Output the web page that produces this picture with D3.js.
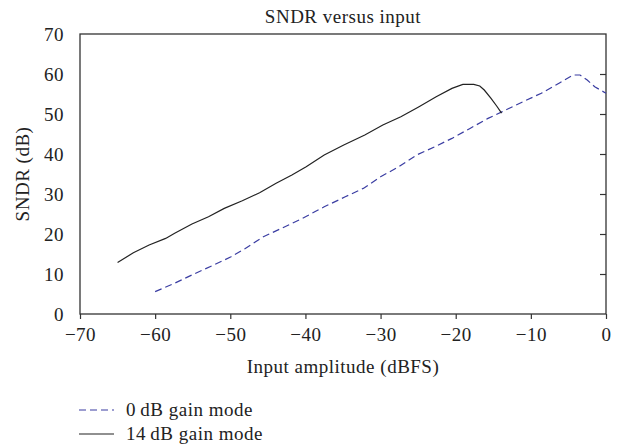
<!DOCTYPE html>
<html lang="en">
<head>
<meta charset="UTF-8">
<title>SNDR versus input</title>
<script src="https://cdn.jsdelivr.net/npm/d3@7"></script>
<style>
    body { margin: 0; background: #fff; }
    text { font-family: "Liberation Serif", serif; fill: #222; font-size: 19px; letter-spacing: 0.5px; }
</style>
</head>
<body>
<div id="output"></div>
<script>

// 0 dB gain mode (dashed blue)
var gain0X = [-60, -57.4, -54.6, -52.2, -49.9, -48, -45.6, -43.2, -40.4, -37.5, -34.7, -32.3, -30, -27.6,
              -25.2, -22.8, -20.5, -18.1, -15.7, -13.8, -11, -8.6, -6.25, -4.4, -3.45, -2.5, -1.5, 0];
var gain0Y = [5.6, 7.7, 10.2, 12.25, 14.3, 16.4, 19.3, 21.4, 23.9, 26.8, 29.3, 31.4, 34.3, 36.8,
              39.75, 41.8, 43.9, 46.4, 48.9, 50.6, 53.1, 55.2, 57.7, 59.75, 59.75, 58.5, 56.8, 55.2];

// 14 dB gain mode (solid black)
var gain14X = [-65, -62.9, -60.8, -58.6, -57.4, -55.1, -52.9, -50.8, -48.4, -46.1, -43.9, -41.8, -39.9,
               -37.5, -34.9, -32.1, -29.7, -27.3, -25, -22.6, -20.5, -19.05, -17.6, -16.8, -16.2, -15.3, -14.55, -13.9];
var gain14Y = [12.9, 15.3, 17.25, 18.9, 20.2, 22.5, 24.3, 26.4, 28.3, 30.3, 32.7, 34.75, 36.8,
               39.75, 42.25, 44.75, 47.25, 49.3, 51.7, 54.3, 56.4, 57.4, 57.4, 57.0, 56.0, 53.9, 52.0, 50.2];

var xTicks = [-70, -60, -50, -40, -30, -20, -10, 0];
var yTicks = [0, 10, 20, 30, 40, 50, 60, 70];
var seriesNames = ["0\u2009dB gain mode", "14\u2009dB gain mode"];

var w = 622, h = 446;
var plotLeft = 80, plotRight = 606, plotTop = 34, plotBottom = 314;

var svg = d3.select("#output").append("svg")
    .attr("width", w).attr("height", h);

var xScale = d3.scaleLinear().domain([-70, 0]).range([plotLeft, plotRight]);
var yScale = d3.scaleLinear().domain([0, 70]).range([plotBottom, plotTop]);

var fmt = function(d){ return d < 0 ? "\u2212" + Math.abs(d) : "" + d; };

// bottom axis, ticks out
var xAxis = svg.append("g")
    .attr("transform", "translate(0," + plotBottom + ")")
    .call(d3.axisBottom(xScale).tickValues(xTicks).tickSize(5).tickPadding(9).tickFormat(fmt));
xAxis.select(".domain").remove();
xAxis.selectAll("line").attr("stroke", "#333").attr("stroke-width", 1.2);
xAxis.selectAll("text").attr("fill", null);
xAxis.attr("font-size", null).attr("font-family", null);

// left axis, labels only
var yAxis = svg.append("g")
    .attr("transform", "translate(" + plotLeft + ",0)")
    .call(d3.axisLeft(yScale).tickValues(yTicks).tickSize(0).tickPadding(16));
yAxis.select(".domain").remove();
yAxis.selectAll("text").attr("fill", null);
yAxis.attr("font-size", null).attr("font-family", null);

// right axis, ticks in
var rAxis = svg.append("g")
    .attr("transform", "translate(" + plotRight + ",0)")
    .call(d3.axisLeft(yScale).tickValues(yTicks.slice(1, -1)).tickSize(6).tickFormat(""));
rAxis.select(".domain").remove();
rAxis.selectAll("line").attr("x2", -6).attr("stroke", "#333").attr("stroke-width", 1.2);

// frame
svg.append("rect")
    .attr("x", plotLeft).attr("y", plotTop)
    .attr("width", plotRight - plotLeft).attr("height", plotBottom - plotTop)
    .attr("fill", "none").attr("stroke", "#333").attr("stroke-width", 1.3);

var line = d3.line()
    .x(function(d){ return xScale(d[0]); })
    .y(function(d){ return yScale(d[1]); });

svg.append("path")
    .attr("d", line(d3.zip(gain0X, gain0Y)))
    .attr("fill", "none").attr("stroke", "#3a3da2").attr("stroke-width", 1.2)
    .attr("stroke-dasharray", "7,4");

svg.append("path")
    .attr("d", line(d3.zip(gain14X, gain14Y)))
    .attr("fill", "none").attr("stroke", "#222").attr("stroke-width", 1.2);

// titles
svg.append("text")
    .attr("x", (plotLeft + plotRight) / 2).attr("y", 23)
    .attr("text-anchor", "middle")
    .text("SNDR versus input");

svg.append("text")
    .attr("x", (plotLeft + plotRight) / 2).attr("y", 373)
    .attr("text-anchor", "middle")
    .text("Input amplitude (dBFS)");

svg.append("text")
    .attr("transform", "translate(29," + (plotTop + plotBottom) / 2 + ") rotate(-90)")
    .attr("text-anchor", "middle")
    .text("SNDR (dB)");

// legend
var legend = svg.append("g").attr("transform", "translate(79,410)");
seriesNames.forEach(function(name, i) {
    var g = legend.append("g").attr("transform", "translate(0," + i * 24 + ")");
    g.append("line")
        .attr("x1", 0).attr("x2", 35).attr("y1", 0).attr("y2", 0)
        .attr("stroke", i === 0 ? "#3a3da2" : "#222").attr("stroke-width", 1.2)
        .attr("stroke-dasharray", i === 0 ? "7,4" : null);
    g.append("text")
        .attr("x", 47).attr("y", 6)
        .text(name);
});

</script>
</body>
</html>
